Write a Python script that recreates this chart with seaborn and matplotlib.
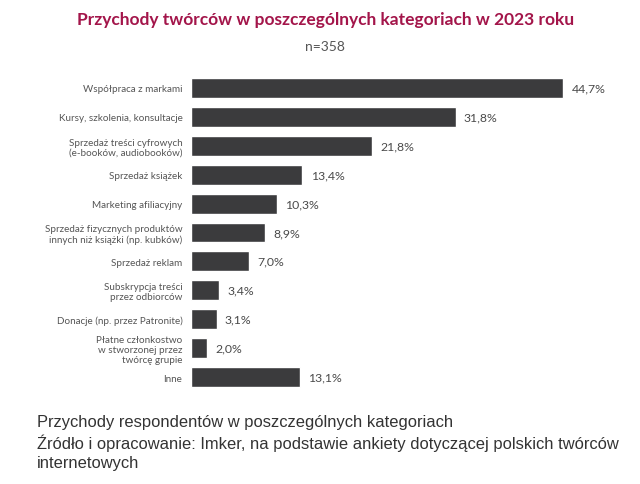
import matplotlib
matplotlib.use("Agg")
import matplotlib.pyplot as plt
import seaborn as sns
import pandas as pd

categories = [
    "Współpraca z markami",
    "Kursy, szkolenia, konsultacje",
    "Sprzedaż treści cyfrowych\n(e-booków, audiobooków)",
    "Sprzedaż książek",
    "Marketing afiliacyjny",
    "Sprzedaż fizycznych produktów\ninnych niż książki (np. kubków)",
    "Sprzedaż reklam",
    "Subskrypcja treści\nprzez odbiorców",
    "Donacje (np. przez Patronite)",
    "Płatne członkostwo\nw stworzonej przez\ntwórcę grupie",
    "Inne",
]
values = [44.7, 31.8, 21.8, 13.4, 10.3, 8.9, 7.0, 3.4, 3.1, 2.0, 13.1]
value_labels = ["44,7%", "31,8%", "21,8%", "13,4%", "10,3%", "8,9%", "7,0%", "3,4%", "3,1%", "2,0%", "13,1%"]

title = "Przychody twórców w poszczególnych kategoriach w 2023 roku"
subtitle = "n=358"
caption_lines = [
    "Przychody respondentów w poszczególnych kategoriach",
    "Źródło i opracowanie: Imker, na podstawie ankiety dotyczącej polskich twórców",
    "internetowych",
]

df = pd.DataFrame({"cat": categories, "val": values})

sns.set_theme(style="white")
plt.rcParams["font.family"] = ["Lato", "DejaVu Sans"]

fig = plt.figure(figsize=(6.4, 4.85), dpi=100)
ax = fig.add_axes([0.298, 0.1907, 0.682, 0.6557])

sns.barplot(data=df, x="val", y="cat", orient="h", color="#3b3b3d",
            saturation=1, width=0.69, ax=ax)
ax.set_xlim(0, 52.4)
ax.set_xlabel("")
ax.set_ylabel("")
ax.set_xticks([])
for s in ax.spines.values():
    s.set_visible(False)
ax.tick_params(axis="y", length=0, pad=6)
for lab in ax.get_yticklabels():
    lab.set_fontsize(7.1)
    lab.set_color("#555555")
    lab.set_horizontalalignment("right")
    lab.set_multialignment("right")
    lab.set_linespacing(1.15)

for i, (v, t) in enumerate(zip(values, value_labels)):
    ax.text(v + 1.0, i, t, va="center", ha="left", fontsize=8.8, color="#4a4a4a")

fig.text(0.508, 0.958, title, ha="center", va="center", fontsize=12.5,
         fontweight="bold", color="#a3154a")
fig.text(0.508, 0.903, subtitle, ha="center", va="center", fontsize=10,
         color="#555555")
for k, line in enumerate(caption_lines):
    y_px = 421 + 20.5 * k
    fig.text(0.058, 1 - y_px / 485, line, ha="left", va="center_baseline",
             fontsize=11.9, color="#333333",
             family=["Liberation Sans", "DejaVu Sans"])

fig.savefig("out.png", dpi=100)
